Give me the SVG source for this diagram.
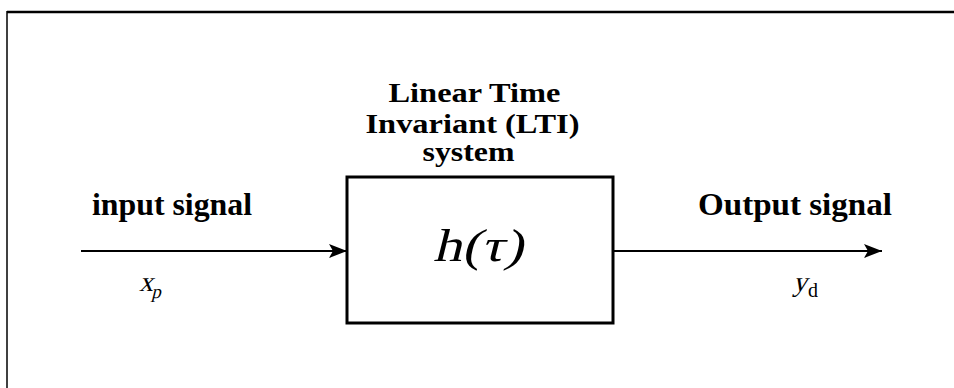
<svg xmlns="http://www.w3.org/2000/svg" width="954" height="388" viewBox="0 0 954 388">
<style>
.b{font-family:"Liberation Serif","Times New Roman",serif;font-weight:bold;fill:#000}
.r{font-family:"Liberation Serif","Times New Roman",serif;fill:#000}
.ln{stroke:#000;stroke-width:2;fill:none}
</style>
<defs>
<marker id="ah" markerUnits="userSpaceOnUse" markerWidth="20" markerHeight="16" refX="18" refY="8" orient="auto">
<path d="M0,1 L18,8 L0,15 L4,8 z" fill="#000"/>
</marker>
</defs>
<rect width="954" height="388" fill="#fff"/>
<g id="frame">
<line x1="7" y1="12" x2="954" y2="12" stroke="#000" stroke-width="2.5"/>
<line x1="7" y1="11" x2="7" y2="388" stroke="#000" stroke-width="1.5"/>
</g>
<g id="connectors">
<line class="ln" x1="81" y1="251" x2="347" y2="251" marker-end="url(#ah)"/>
<line class="ln" x1="613" y1="251" x2="882" y2="251" marker-end="url(#ah)"/>
</g>
<g id="lti">
<rect x="347" y="177" width="266" height="146" fill="#fff" stroke="#000" stroke-width="3"/>
<text class="b" font-size="27" x="474.5" y="102" text-anchor="middle" textLength="172" lengthAdjust="spacingAndGlyphs">Linear Time</text>
<text class="b" font-size="27" x="472.5" y="133" text-anchor="middle" textLength="214" lengthAdjust="spacingAndGlyphs">Invariant (LTI)</text>
<text class="b" font-size="27" x="468.5" y="161" text-anchor="middle" textLength="92" lengthAdjust="spacingAndGlyphs">system</text>
<g transform="translate(433,261) skewX(-14)">
<text class="r" font-size="46" x="0" y="0" textLength="90" lengthAdjust="spacingAndGlyphs">h(τ)</text>
</g>
</g>
<g id="input">
<text class="b" font-size="31" x="92" y="215" textLength="160" lengthAdjust="spacingAndGlyphs">input signal</text>
<g transform="translate(139,291) skewX(-14)">
<text class="r" font-size="28" x="0" y="0">x<tspan font-size="19" dy="7">p</tspan></text>
</g>
</g>
<g id="output">
<text class="b" font-size="31" x="698" y="215" textLength="194" lengthAdjust="spacingAndGlyphs">Output signal</text>
<g transform="translate(793,291) skewX(-14)">
<text class="r" font-size="28" x="0" y="0">y</text>
</g>
<text class="r" font-size="20" x="808" y="297">d</text>
</g>
</svg>
